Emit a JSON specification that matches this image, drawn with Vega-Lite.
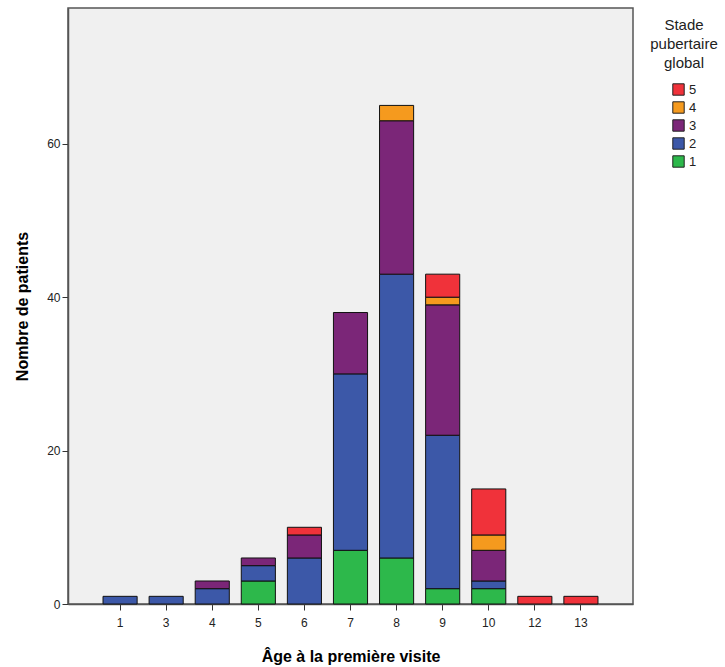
{
  "$schema": "https://vega.github.io/schema/vega-lite/v6.json",
  "width": 565,
  "height": 596,
  "autosize": {"type": "none"},
  "padding": {"left": 68, "top": 8, "right": 92, "bottom": 63},
  "background": "white",
  "config": {
    "view": {"fill": "#F0F0F0", "stroke": "#555555", "strokeWidth": 1.5},
    "font": "Liberation Sans"
  },
  "data": {
    "values": [
      {"age": "1", "stade": "2", "n": 1, "o": 2},
      {"age": "3", "stade": "2", "n": 1, "o": 2},
      {"age": "4", "stade": "2", "n": 2, "o": 2},
      {"age": "4", "stade": "3", "n": 1, "o": 3},
      {"age": "5", "stade": "1", "n": 3, "o": 1},
      {"age": "5", "stade": "2", "n": 2, "o": 2},
      {"age": "5", "stade": "3", "n": 1, "o": 3},
      {"age": "6", "stade": "2", "n": 6, "o": 2},
      {"age": "6", "stade": "3", "n": 3, "o": 3},
      {"age": "6", "stade": "5", "n": 1, "o": 5},
      {"age": "7", "stade": "1", "n": 7, "o": 1},
      {"age": "7", "stade": "2", "n": 23, "o": 2},
      {"age": "7", "stade": "3", "n": 8, "o": 3},
      {"age": "8", "stade": "1", "n": 6, "o": 1},
      {"age": "8", "stade": "2", "n": 37, "o": 2},
      {"age": "8", "stade": "3", "n": 20, "o": 3},
      {"age": "8", "stade": "4", "n": 2, "o": 4},
      {"age": "9", "stade": "1", "n": 2, "o": 1},
      {"age": "9", "stade": "2", "n": 20, "o": 2},
      {"age": "9", "stade": "3", "n": 17, "o": 3},
      {"age": "9", "stade": "4", "n": 1, "o": 4},
      {"age": "9", "stade": "5", "n": 3, "o": 5},
      {"age": "10", "stade": "1", "n": 2, "o": 1},
      {"age": "10", "stade": "2", "n": 1, "o": 2},
      {"age": "10", "stade": "3", "n": 4, "o": 3},
      {"age": "10", "stade": "4", "n": 2, "o": 4},
      {"age": "10", "stade": "5", "n": 6, "o": 5},
      {"age": "12", "stade": "5", "n": 1, "o": 5},
      {"age": "13", "stade": "5", "n": 1, "o": 5}
    ]
  },
  "mark": {"type": "bar", "stroke": "#111111", "strokeWidth": 1},
  "encoding": {
    "x": {
      "field": "age",
      "type": "ordinal",
      "sort": ["1", "3", "4", "5", "6", "7", "8", "9", "10", "12", "13"],
      "scale": {"paddingInner": 0.26, "paddingOuter": 0.76},
      "axis": {
        "title": "Âge à la première visite",
        "titleFontSize": 16,
        "titleFontWeight": "bold",
        "titleColor": "#000000",
        "titlePadding": 20,
        "labelAngle": 0,
        "labelFontSize": 12,
        "labelColor": "#222222",
        "labelPadding": 7,
        "tickSize": 6,
        "tickColor": "#333333",
        "domainColor": "#555555",
        "domainWidth": 1.5
      }
    },
    "y": {
      "field": "n",
      "type": "quantitative",
      "stack": "zero",
      "scale": {"domain": [0, 77.7], "nice": false},
      "axis": {
        "title": "Nombre de patients",
        "titleFontSize": 16,
        "titleFontWeight": "bold",
        "titleColor": "#000000",
        "titlePadding": 16,
        "values": [0, 20, 40, 60],
        "grid": false,
        "labelFontSize": 12,
        "labelColor": "#222222",
        "tickSize": 6,
        "tickColor": "#333333",
        "domainColor": "#555555",
        "domainWidth": 1.5
      }
    },
    "color": {
      "field": "stade",
      "type": "nominal",
      "scale": {
        "domain": ["5", "4", "3", "2", "1"],
        "range": ["#F0323A", "#F59A1E", "#7B2678", "#3C58A8", "#2DB84B"]
      },
      "legend": {
        "title": ["Stade", "pubertaire", "global"],
        "orient": "none",
        "legendX": 582,
        "legendY": 10,
        "titleFontSize": 15,
        "titleFontWeight": "normal",
        "titleColor": "#222222",
        "titleAlign": "center",
        "titleAnchor": "middle",
        "titleLineHeight": 19,
        "titlePadding": 12,
        "labelFontSize": 13,
        "labelColor": "#222222",
        "symbolType": "square",
        "symbolSize": 130,
        "symbolStrokeColor": "#222222",
        "symbolStrokeWidth": 1,
        "rowPadding": 1,
        "labelOffset": 4
      }
    },
    "order": {"field": "o", "type": "quantitative", "sort": "ascending"}
  }
}
